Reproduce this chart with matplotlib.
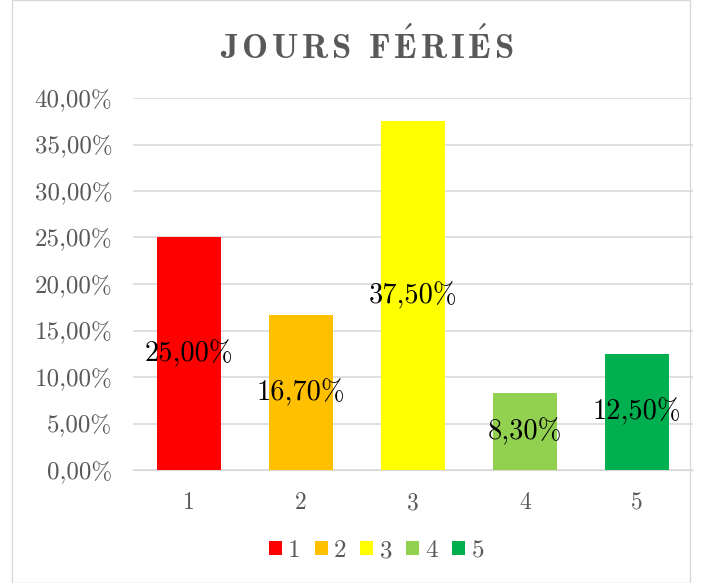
import matplotlib
matplotlib.use("Agg")
import matplotlib.pyplot as plt
from matplotlib.patches import Rectangle, Patch

categories = ["1", "2", "3", "4", "5"]
values = [25.0, 16.7, 37.5, 8.3, 12.5]
colors = ["#FF0000", "#FFC000", "#FFFF00", "#92D050", "#00B050"]
yticks = [0, 5, 10, 15, 20, 25, 30, 35, 40]

plt.rcParams["mathtext.fontset"] = "cm"
serif = ["cmr10", "DejaVu Serif"]
grey = "#595959"

def pct(v):
    return f"{v:.2f}".replace(".", ",") + "%"

fig = plt.figure(figsize=(7.02, 5.83), dpi=100)
ax = fig.add_axes([133 / 702, 1 - 470 / 583, (693 - 133) / 702, (470 - 98) / 583])

x = range(len(categories))
bars = ax.bar(x, values, width=0.57, color=colors, zorder=3)
for b, v in zip(bars, values):
    ax.text(b.get_x() + b.get_width() / 2, v / 2, pct(v), ha="center", va="center",
            fontsize=20.5, family=serif, color="black", zorder=4)

ax.set_ylim(0, 40)
ax.set_xlim(-0.5, len(categories) - 0.5)
ax.set_yticks(yticks)
ax.set_yticklabels([pct(t) for t in yticks], family=serif, fontsize=18, color=grey)
ax.set_xticks(list(x))
ax.set_xticklabels(categories, family=serif, fontsize=17, color=grey)
ax.tick_params(length=0, pad=15)
ax.tick_params(axis="x", pad=16)
ax.grid(axis="y", color="#D9D9D9", linewidth=1.2, zorder=0)
for s in ax.spines.values():
    s.set_visible(False)
ax.spines["bottom"].set_visible(True)
ax.spines["bottom"].set_color("#D9D9D9")

# letter-spaced title through mathtext so the accents stay in Computer Modern
letters = ["J", "O", "U", "R", "S", r"\ ", "F", r"\acute{E}", "R", "I", r"\acute{E}", "S"]
title = r"$\mathbf{" + r"\hspace{0.12}".join(letters) + "}$"
fig.text(0.522, 1 - 46 / 583, title, ha="center", va="center",
         fontsize=25, color=grey)

handles = [Patch(facecolor=c, edgecolor="none") for c in colors]
fig.legend(handles, categories, loc="center", bbox_to_anchor=(0.536, 1 - 551 / 583),
           ncol=5, frameon=False, handlelength=0.52, handleheight=0.52, handletextpad=0.26,
           columnspacing=0.55, prop={"family": serif, "size": 18}, labelcolor=grey)

fig.patches.append(Rectangle((12 / 702, 0), 1 - 24 / 702, 1, transform=fig.transFigure,
                             fill=False, edgecolor="#D9D9D9", linewidth=1))

fig.savefig("out.png", dpi=100)
